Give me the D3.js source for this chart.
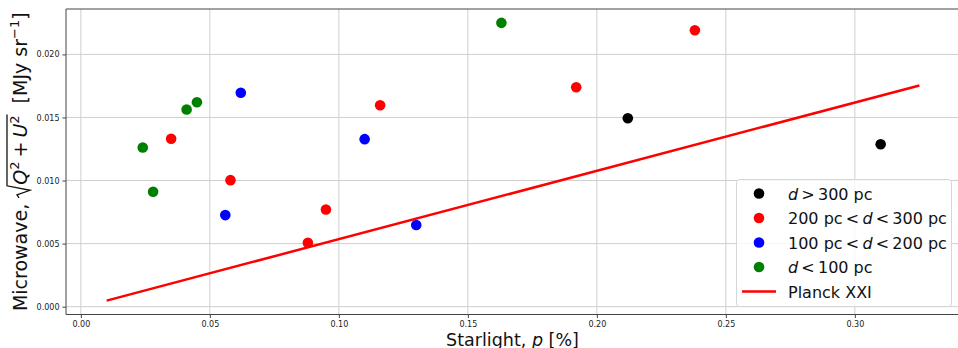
<!DOCTYPE html>
<html lang="en">
<head>
<meta charset="utf-8">
<title>Starlight vs microwave polarisation</title>
<script src="https://cdn.jsdelivr.net/npm/d3@7"></script>
<style>
  body { margin: 0; background: white; }
  svg { display: block; font-family: "DejaVu Sans", sans-serif; }
</style>
</head>
<body>
<script>
// data: starlight p [%], microwave sqrt(Q^2+U^2) [MJy/sr]
var farP   = [0.212, 0.310];
var farPI  = [0.01494, 0.01288];
var midP   = [0.035, 0.058, 0.116, 0.095, 0.088, 0.238, 0.192];
var midPI  = [0.01331, 0.01003, 0.01597, 0.00771, 0.00507, 0.02192, 0.01740];
var nearP  = [0.062, 0.056, 0.110, 0.130];
var nearPI = [0.01696, 0.00726, 0.01328, 0.00647];
var closeP  = [0.163, 0.045, 0.041, 0.024, 0.028];
var closePI = [0.02250, 0.01621, 0.01563, 0.01262, 0.00911];
var planckP  = [0.010, 0.325];
var planckPI = [0.00048, 0.01754];

var xTicks = [0, 0.05, 0.10, 0.15, 0.20, 0.25, 0.30];
var yTicks = [0, 0.005, 0.010, 0.015, 0.020];

var ts = "\u2009";
var groups = [
  {pre: "", post: ts + ">" + ts + "300 pc", color: "black", xs: farP, ys: farPI},
  {pre: "200 pc" + ts + "<" + ts, post: ts + "<" + ts + "300 pc", color: "red", xs: midP, ys: midPI},
  {pre: "100 pc" + ts + "<" + ts, post: ts + "<" + ts + "200 pc", color: "blue", xs: nearP, ys: nearPI},
  {pre: "", post: ts + "<" + ts + "100 pc", color: "green", xs: closeP, ys: closePI}
];

var W = 958, H = 348;
var axL = 66, axR = 960, axT = 9, axB = 314.5;

var svg = d3.select("body").append("svg")
  .attr("width", W).attr("height", H);

var x = d3.scaleLinear().domain([-0.00575, 0.34075]).range([axL, axR]);
var y = d3.scaleLinear().domain([-0.00062, 0.0236]).range([axB, axT]);

// grid
svg.append("g").selectAll("line").data(xTicks).enter().append("line")
  .attr("x1", d => x(d)).attr("x2", d => x(d))
  .attr("y1", axT).attr("y2", axB)
  .attr("stroke", "#cfcfcf").attr("stroke-width", 1);
svg.append("g").selectAll("line").data(yTicks).enter().append("line")
  .attr("x1", axL).attr("x2", axR)
  .attr("y1", d => y(d)).attr("y2", d => y(d))
  .attr("stroke", "#cfcfcf").attr("stroke-width", 1);

// axes
var xAxis = svg.append("g").attr("transform", "translate(0," + axB + ")")
  .call(d3.axisBottom(x).tickValues(xTicks).tickFormat(d3.format(".2f")).tickSize(3.5).tickPadding(3.5));
var yAxis = svg.append("g").attr("transform", "translate(" + axL + ",0)")
  .call(d3.axisLeft(y).tickValues(yTicks).tickFormat(d3.format(".3f")).tickSize(3.5).tickPadding(3));
[xAxis, yAxis].forEach(function(a) {
  a.select(".domain").remove();
  a.selectAll("text").attr("font-family", "DejaVu Sans").attr("font-size", 8).attr("fill", "#222");
  a.selectAll("line").attr("stroke", "#444");
});

// spines
svg.append("line").attr("x1", axL).attr("x2", axR).attr("y1", axT).attr("y2", axT)
  .attr("stroke", "#444").attr("stroke-width", 1);
svg.append("line").attr("x1", axL).attr("x2", axR).attr("y1", axB).attr("y2", axB)
  .attr("stroke", "#444").attr("stroke-width", 1);
svg.append("line").attr("x1", axL).attr("x2", axL).attr("y1", axT).attr("y2", axB)
  .attr("stroke", "#444").attr("stroke-width", 1);

// points
groups.forEach(function(g) {
  svg.append("g").selectAll("circle").data(g.xs).enter().append("circle")
    .attr("cx", d => x(d))
    .attr("cy", (d, i) => y(g.ys[i]))
    .attr("r", 5.3)
    .attr("fill", g.color);
});

// Planck XXI line
var line = d3.line().x(d => x(d[0])).y(d => y(d[1]));
svg.append("path")
  .datum(planckP.map((p, i) => [p, planckPI[i]]))
  .attr("d", line)
  .attr("fill", "none").attr("stroke", "red").attr("stroke-width", 2.5);

// legend
var leg = svg.append("g");
leg.append("rect").attr("x", 736.5).attr("y", 179.5).attr("width", 215).attr("height", 127)
  .attr("rx", 3).attr("fill", "white").attr("fill-opacity", 0.8)
  .attr("stroke", "#d6d6d6").attr("stroke-width", 1);
var rowY = [193.5, 218, 242.5, 267, 291.5];
groups.forEach(function(g, i) {
  leg.append("circle").attr("cx", 759).attr("cy", rowY[i]).attr("r", 5.3).attr("fill", g.color);
  var t = leg.append("text").attr("x", 788).attr("y", rowY[i] + 6)
    .attr("font-size", 16).attr("fill", "#111");
  if (g.pre) t.append("tspan").text(g.pre);
  t.append("tspan").attr("font-style", "italic").text("d");
  t.append("tspan").text(g.post);
});
leg.append("line").attr("x1", 742).attr("x2", 776).attr("y1", rowY[4]).attr("y2", rowY[4])
  .attr("stroke", "red").attr("stroke-width", 2.5);
leg.append("text").attr("x", 788).attr("y", rowY[4] + 6).attr("font-size", 16).attr("fill", "#111")
  .text("Planck XXI");

// x label
var xl = svg.append("text").attr("x", (axL + 958) / 2 + 0.5).attr("y", 345.5)
  .attr("text-anchor", "middle").attr("font-size", 17.5).attr("fill", "#111");
xl.append("tspan").text("Starlight,\u00a0");
xl.append("tspan").attr("font-style", "italic").text("p");
xl.append("tspan").text("\u00a0[%]");

// y label, built piece by piece so the radical can be drawn
var fs = 19;
var yl = svg.append("g").attr("transform", "translate(27," + ((axT + axB) / 2) + ") rotate(-90)");
var inner = yl.append("g");
var cx = 0;
function piece(str, italic, size, dy) {
  var t = inner.append("text").attr("x", cx).attr("y", dy || 0)
    .attr("font-size", size || fs).attr("fill", "#111")
    .attr("font-style", italic ? "italic" : "normal").text(str);
  cx += t.node().getComputedTextLength();
  return t;
}
piece("Microwave,");
cx += 6;
var r0 = cx;
cx += 13;
piece("Q", true);
piece("2", false, 13, -8.5);
cx += 4;
piece("+");
cx += 4;
piece("U", true);
piece("2", false, 13, -8.5);
var r1 = cx + 1;
inner.append("path")
  .attr("d", "M" + r0 + ",-8 L" + (r0 + 3) + ",-10 L" + (r0 + 7.5) + ",3 L" + (r0 + 12) + ",-20 L" + r1 + ",-20")
  .attr("fill", "none").attr("stroke", "#111").attr("stroke-width", 1.3);
cx += 12;
piece("[MJy\u00a0sr");
piece("\u22121", false, 13, -8.5);
piece("]");
inner.attr("transform", "translate(" + (-cx / 2) + ",0)");
</script>
</body>
</html>
